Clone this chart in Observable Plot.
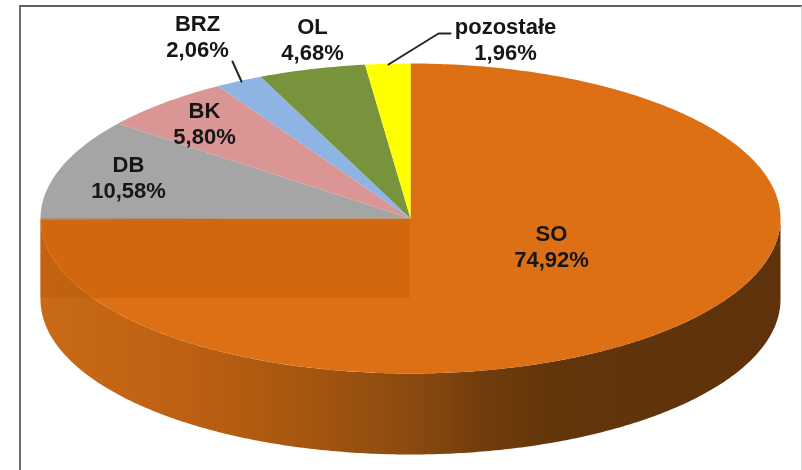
<!DOCTYPE html>
<html><head><meta charset="utf-8">
<script src="https://cdn.jsdelivr.net/npm/d3@7"></script>
<script src="https://cdn.jsdelivr.net/npm/@observablehq/plot@0.6"></script>
<style>
html,body{margin:0;padding:0;background:#fff;overflow:hidden}
#wrap{position:relative;width:802px;height:470px}
#frame{position:absolute;left:19px;top:5px;right:0;bottom:-10px;border-left:2px solid #6e6e6e;border-top:2px solid #5e5e5e;border-right:1px solid #d8d8d8}
#chart{position:absolute;left:0;top:0}
#chart svg{display:block;background:transparent;filter:blur(.45px)}
</style></head>
<body><div id="wrap"><div id="frame"></div><div id="chart"></div></div>
<script>
const names = ["SO","DB","BK","BRZ","OL","pozostałe"];
const shares = [74.92,10.58,5.80,2.06,4.68,1.96];
const shareLabels = ["74,92%","10,58%","5,80%","2,06%","4,68%","1,96%"];
const sliceColors = ["#dd7014","#a5a5a5","#d99694","#8eb4e3","#77933c","#ffff00"];

// pixel frame of the tilted disc
const cx = 410, cy = 218, rx = 370, ry = 155, depth = 81;
const ux = p => (p - cx) / rx, uy = p => (cy - p) / ry;
const dz = depth / ry;

const arcs = d3.pie().sort(null).value(d => d)(shares);
const rim = a => ({x: Math.sin(a), y: Math.cos(a)});
const sweep = (a0, a1) => {
  const n = Math.max(2, Math.ceil(Math.abs(a1 - a0) / 0.01));
  return d3.range(n + 1).map(i => a0 + (a1 - a0) * i / n);
};
const wedges = arcs.flatMap((s, i) => [
  {x: 0, y: 0, name: names[i]},
  ...sweep(s.startAngle, s.endAngle).map(a => ({...rim(a), name: names[i]})),
  {x: 0, y: 0, name: names[i]}
]);
// front wall: lower half of the rim, extruded downwards
const lower = sweep(Math.PI / 2, 3 * Math.PI / 2).map(rim);
const wall = [...lower, ...lower.slice().reverse().map(p => ({x: p.x, y: p.y - dz}))];

// label anchors in pixels of the picture
const labelAt = {SO:[551,245], DB:[128,176], BK:[204,122], BRZ:[197,35], OL:[312,38], "pozostałe":[505,38.5]};
const labels = names.map((n, i) => ({text: n + "\n" + shareLabels[i], x: ux(labelAt[n][0]), y: uy(labelAt[n][1])}));
const leaders = [
  [[241,81],[232,61]],
  [[388,64],[438,33],[450,33]]
].flatMap((l, k) => l.map(([a, b]) => ({x: ux(a), y: uy(b), k})));

const defs = () => {
  const d = d3.create("svg:defs");
  const g = d.append("linearGradient").attr("id", "sideGrad").attr("x1", 0).attr("x2", 1).attr("y1", 0).attr("y2", 0);
  [[0,"#c96a15"],[0.2,"#bd6012"],[0.35,"#a6570f"],[0.5,"#8c4a10"],[0.6,"#703c0c"],[0.7,"#62350b"],[1,"#5e320a"]]
    .forEach(([o, c]) => g.append("stop").attr("offset", o).attr("stop-color", c));
  return d.node();
};

const chart = Plot.plot({
  width: 802, height: 470,
  margin: 0,
  style: {background: "transparent"},
  x: {domain: [-1, 1], range: [cx - rx, cx + rx], axis: null},
  y: {domain: [-1, 1], range: [cy + ry, cy - ry], axis: null},
  color: {domain: names, range: sliceColors},
  marks: [
    defs,
    Plot.line(wall, {x: "x", y: "y", fill: "url(#sideGrad)", stroke: "none"}),
    Plot.line(wedges, {x: "x", y: "y", z: "name", fill: "name", stroke: "none"}),
    Plot.rect([{x1: -1, x2: 0, y1: 0, y2: -dz * 80 / 81}], {x1: "x1", x2: "x2", y1: "y1", y2: "y2", fill: "#b04f00", fillOpacity: 0.25}),
    Plot.line(leaders, {x: "x", y: "y", z: "k", stroke: "#262626", strokeWidth: 2}),
    Plot.text(labels, {x: "x", y: "y", text: "text", fontFamily: "Liberation Sans, Arial, sans-serif", fontWeight: "bold", fontSize: 22, lineHeight: 1.18, fill: "#161616", textAnchor: "middle"})
  ]
});
document.getElementById("chart").appendChild(chart);
</script>
</body></html>
